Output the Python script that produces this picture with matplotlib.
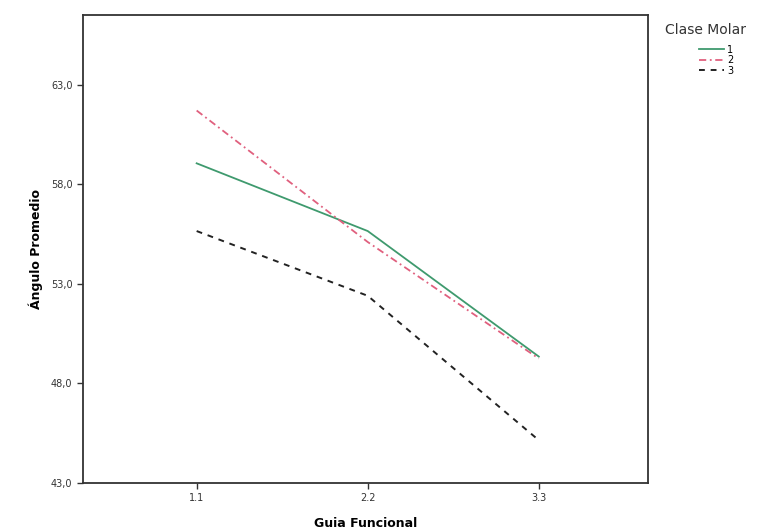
import matplotlib
matplotlib.use('Agg')
import matplotlib.pyplot as plt

# Data
guia = ['1.1', '2.2', '3.3']
clase_1 = [59.05, 55.65, 49.35]
clase_2 = [61.7, 55.1, 49.25]
clase_3 = [55.65, 52.4, 45.15]
y_ticks = [43.0, 48.0, 53.0, 58.0, 63.0]

fig = plt.figure(figsize=(7.82, 5.32), dpi=100)
ax = fig.add_axes([0.106, 0.092, 0.723, 0.880])

x = range(len(guia))
ax.plot(x, clase_1, color='#3f9a6e', linestyle='-', linewidth=1.3, label='1')
ax.plot(x, clase_2, color='#e0607e', linestyle=(0, (4, 2, 1, 2)), linewidth=1.3, label='2')
ax.plot(x, clase_3, color='#222222', linestyle=(0, (3, 3)), linewidth=1.4, label='3')

ax.set_xlim(-0.665, 2.64)
ax.set_ylim(43.0, 66.5)
ax.set_xticks(list(x))
ax.set_xticklabels(guia)
ax.set_yticks(y_ticks)
ax.set_yticklabels([f'{v:.1f}'.replace('.', ',') for v in y_ticks])
ax.tick_params(labelsize=7, colors='#333333', length=4, width=1)
for s in ax.spines.values():
    s.set_linewidth(1.3)
    s.set_color('#333333')

ax.set_xlabel('Guia Funcional', fontsize=9, fontweight='bold', labelpad=10)
ax.set_ylabel('Ángulo Promedio', fontsize=9, fontweight='bold', labelpad=6)

# legend: title on its own, items indented below it
fig.text(665 / 782, 1 - 30 / 532, 'Clase Molar', fontsize=10, color='#333333',
         va='center', ha='left')
fig.legend(loc='upper left', bbox_to_anchor=(694 / 782, 1 - 40 / 532), frameon=False,
           fontsize=7, handlelength=2.6, handletextpad=0.3, labelspacing=0.05,
           borderpad=0.0)

fig.savefig('out.png', dpi=100)
